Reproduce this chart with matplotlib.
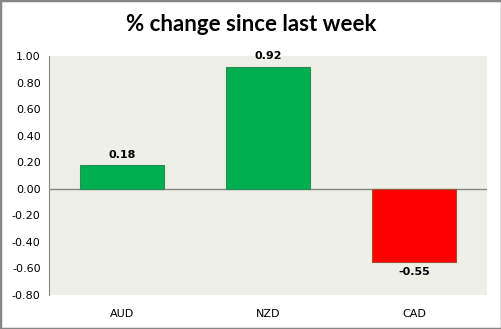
import matplotlib
matplotlib.use('Agg')
import matplotlib.pyplot as plt

# Weekly % change per currency
currencies = ['AUD', 'NZD', 'CAD']
changes = [0.18, 0.92, -0.55]
bar_colors = ['#00B050', '#00B050', '#FF0000']
yticks = [-0.8, -0.6, -0.4, -0.2, 0.0, 0.2, 0.4, 0.6, 0.8, 1.0]

fig = plt.figure(figsize=(5.02, 3.29), dpi=100)
fig.patch.set_facecolor('white')
# grey frame around the whole chart
fig.patches.append(plt.Rectangle((0, 0), 1, 1, transform=fig.transFigure,
                                 fill=False, edgecolor='#868686', linewidth=2.5))

ax = fig.add_axes([0.0976, 0.1033, 0.8725, 0.7265])
ax.set_facecolor('#EEF0E8')

x = range(len(currencies))
bars = ax.bar(x, changes, width=0.58, color=bar_colors, edgecolor=['#2E8B57', '#2E8B57', '#A0522D'],
              linewidth=0.8, zorder=3)

for xi, v in zip(x, changes):
    off = 0.04 if v >= 0 else -0.04
    ax.text(xi, v + off, f'{v:.2f}', ha='center', va='bottom' if v >= 0 else 'top',
            fontsize=8, fontweight='bold', family='DejaVu Sans', color='#000000')

ax.axhline(0, color='#868686', linewidth=1, zorder=2)
ax.set_xlim(-0.5, 2.5)
ax.set_ylim(-0.8, 1.0)
ax.set_yticks(yticks)
ax.set_yticklabels([f'{t:.2f}' for t in yticks], fontsize=8)
ax.set_xticks(list(x))
ax.set_xticklabels(currencies, fontsize=8)
ax.tick_params(axis='both', length=0, pad=6)
ax.tick_params(axis='x', pad=10)
for s in ['top', 'right', 'bottom']:
    ax.spines[s].set_visible(False)
ax.spines['left'].set_color('#868686')

fig.text(0.5, 0.925, '% change since last week', ha='center', va='center',
         fontsize=16, fontweight='bold', family='Lato')

fig.savefig('out.png', dpi=100)
